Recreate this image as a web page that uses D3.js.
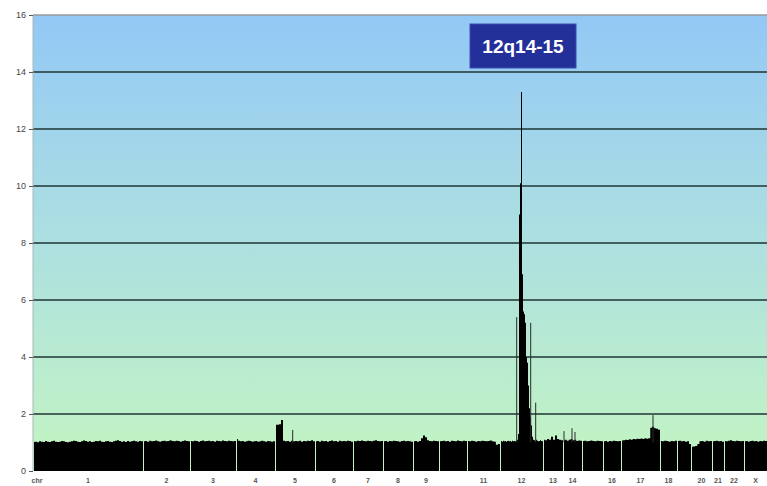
<!DOCTYPE html>
<html>
<head>
<meta charset="utf-8">
<script src="https://cdn.jsdelivr.net/npm/d3@7/dist/d3.min.js"></script>
<style>
  html, body { margin: 0; padding: 0; background: #ffffff; }
  svg { display: block; }
  text { font-family: Arial, "Liberation Sans", sans-serif; }
</style>
</head>
<body>
<svg id="chart" width="767" height="486"></svg>
<script>
// Chromosome order and labels shown under the axis ("" = not labelled)
const chromNames  = ["1","2","3","4","5","6","7","8","9","10","11","12","13","14","15","16","17","18","19","20","21","22","X"];
const chromLabels = ["1","2","3","4","5","6","7","8","9","","11","12","13","14","","16","17","18","","20","21","22","X"];
// Number of probes per chromosome (relative units)
const probeCounts = [110,47,46,39,40,38,30,30,26,28,33,43,20,19,21,18,39,17,14,21,12,20,23];

// Copy-number ratio per probe bin, one array per chromosome
const chr1  = [1.02,1.03,1.01,1.04,1.03,1.02,1.05,1.03,1.02,1.04,1.06,1.03,1.02,1.03,1.05,1.04,1.02,1.01,1.03,1.04,1.06,1.05,1.03,1.02,1.04,1.07,1.05,1.03,1.04,1.02,1.03,1.05,1.04,1.06,1.03,1.02,1.04,1.05,1.03,1.02,1.04,1.06,1.08,1.05,1.03,1.04,1.02,1.05,1.03,1.04,1.06,1.04,1.03,1.05,1.04];
const chr2  = [1.04,1.05,1.03,1.06,1.04,1.05,1.07,1.04,1.03,1.05,1.06,1.04,1.05,1.08,1.05,1.04,1.06,1.05,1.03,1.05,1.07,1.05,1.04];
const chr3  = [1.05,1.04,1.06,1.05,1.03,1.05,1.07,1.04,1.05,1.06,1.04,1.05,1.03,1.06,1.05,1.04,1.07,1.05,1.04,1.06,1.05,1.04,1.05];
const chr4  = [1.12,1.06,1.04,1.05,1.03,1.04,1.06,1.05,1.03,1.04,1.05,1.03,1.04,1.06,1.04,1.03,1.05,1.04,1.03,1.04];
const chr5  = [1.62,1.62,1.64,1.79,1.06,1.04,1.05,1.03,1.06,1.04,1.05,1.04,1.06,1.03,1.05,1.04,1.06,1.05,1.08,1.04];
const chr6  = [1.04,1.05,1.03,1.06,1.04,1.05,1.03,1.05,1.07,1.04,1.05,1.03,1.06,1.04,1.05,1.04,1.06,1.05,1.03];
const chr7  = [1.05,1.04,1.06,1.05,1.07,1.05,1.04,1.06,1.05,1.04,1.06,1.08,1.05,1.04,1.05];
const chr8  = [1.04,1.05,1.03,1.05,1.04,1.06,1.05,1.04,1.03,1.05,1.06,1.04,1.05,1.04,1.03];
const chr9  = [1.04,1.05,1.03,1.05,1.15,1.25,1.18,1.08,1.05,1.04,1.06,1.05,1.04];
const chr10 = [1.04,1.05,1.06,1.04,1.05,1.03,1.06,1.05,1.04,1.07,1.05,1.04,1.06,1.05];
const chr11 = [1.05,1.04,1.06,1.05,1.03,1.05,1.04,1.06,1.05,1.04,1.05,1.07,1.04,1.03,0.92,0.95];
const chr12 = [1.04,1.05,1.03,1.06,1.04,1.05,1.03,1.05,1.06,1.04,1.05,1.03,1.06,1.04,1.05,1.04,1.05,1.10,1.30,9.0,10.1,13.3,6.9,5.6,5.5,5.2,4.0,3.8,3.0,2.2,1.9,1.6,1.2,1.1,1.08,1.05,1.1,1.06,1.04,1.05,1.08,1.05,1.04];
const chr13 = [1.10,1.08,1.12,1.10,1.20,1.10,1.25,1.12,1.10,1.08];
const chr14 = [1.08,1.10,1.06,1.10,1.12,1.08,1.10,1.05,1.07,1.06];
const chr15 = [1.05,1.06,1.04,1.05,1.07,1.05,1.04,1.06,1.05,1.04];
const chr16 = [1.04,1.05,1.03,1.05,1.04,1.06,1.05,1.04,1.05];
const chr17 = [1.07,1.08,1.10,1.09,1.11,1.10,1.12,1.11,1.13,1.12,1.14,1.12,1.15,1.13,1.15,1.52,1.55,1.50,1.48,1.45];
const chr18 = [1.05,1.04,1.06,1.05,1.03,1.05,1.04,1.06];
const chr19 = [1.05,1.06,1.04,1.05,1.03,1.04,0.95];
const chr20 = [0.85,0.86,0.88,0.95,1.04,1.05,1.03,1.06,1.04,1.05];
const chr21 = [1.04,1.05,1.06,1.04,1.05,1.03];
const chr22 = [1.05,1.04,1.06,1.08,1.05,1.04,1.06,1.05,1.04,1.05];
const chrX  = [1.04,1.05,1.03,1.05,1.06,1.04,1.05,1.03,1.05,1.04,1.06,1.05];
const chromValues = [chr1,chr2,chr3,chr4,chr5,chr6,chr7,chr8,chr9,chr10,chr11,chr12,chr13,chr14,chr15,chr16,chr17,chr18,chr19,chr20,chr21,chr22,chrX];

// Single-probe outliers: chromosome, probe offset within chromosome, ratio
const spikeChrom  = ["5","12","12","12","14","14","14","17"];
const spikeOffset = [17.7,16.7,30.7,35.7,1.0,9.0,12.0,32.0];
const spikeValue  = [1.44,5.4,5.2,2.4,1.4,1.5,1.37,1.96];

const yTicks = [0,2,4,6,8,10,12,14,16];
const regionLabel = "12q14-15";

// ---- layout
const svg = d3.select("#chart");
const plotLeft = 33, plotRight = 767, plotTop = 15, plotBottom = 471;

const starts = [];
let acc = 0;
probeCounts.forEach(n => { starts.push(acc); acc += n; });
const total = acc;

const x = d3.scaleLinear().domain([0, total]).range([plotLeft, plotRight]);
const y = d3.scaleLinear().domain([0, 16]).range([plotBottom, plotTop]);

// background gradient
const defs = svg.append("defs");
const grad = defs.append("linearGradient").attr("id", "bg").attr("x1", 0).attr("y1", 0).attr("x2", 0).attr("y2", 1);
grad.append("stop").attr("offset", "0%").attr("stop-color", "#93c8f6");
grad.append("stop").attr("offset", "50%").attr("stop-color", "#ade0e0");
grad.append("stop").attr("offset", "100%").attr("stop-color", "#c4f5c2");

svg.append("rect")
  .attr("x", plotLeft).attr("y", plotTop)
  .attr("width", plotRight - plotLeft).attr("height", plotBottom - plotTop)
  .attr("fill", "url(#bg)");

// horizontal gridlines
svg.append("g").selectAll("line")
  .data(yTicks.filter(t => t > 0 && t < 16))
  .join("line")
  .attr("x1", plotLeft).attr("x2", plotRight)
  .attr("y1", d => y(d)).attr("y2", d => y(d))
  .attr("stroke", "#1f3434").attr("stroke-width", 1.5);

// top border
svg.append("line")
  .attr("x1", plotLeft).attr("x2", plotRight)
  .attr("y1", y(16)).attr("y2", y(16))
  .attr("stroke", "#9a9a9a").attr("stroke-width", 1.5);

// left border
svg.append("line")
  .attr("x1", plotLeft).attr("x2", plotLeft)
  .attr("y1", y(16)).attr("y2", y(0))
  .attr("stroke", "#a8b8b8").attr("stroke-width", 1);

// copy-number bars, one stepped area per chromosome
const area = d3.area()
  .curve(d3.curveStepAfter)
  .x(d => d.x)
  .y0(y(0))
  .y1(d => y(d.v));

const barG = svg.append("g");
chromValues.forEach((vals, ci) => {
  const s = starts[ci], n = probeCounts[ci];
  const w = n / vals.length;
  const pts = vals.map((v, i) => ({ x: i === 0 ? x(s) + 1 : x(s + i * w), v }));
  pts.push({ x: x(s + n), v: vals[vals.length - 1] });
  barG.append("path")
    .attr("d", area(pts))
    .attr("fill", "#000000");
});

// single-probe outliers
svg.append("g").selectAll("line")
  .data(spikeChrom.map((c, i) => ({ ci: chromNames.indexOf(c), off: spikeOffset[i], v: spikeValue[i] })))
  .join("line")
  .attr("x1", d => x(starts[d.ci] + d.off)).attr("x2", d => x(starts[d.ci] + d.off))
  .attr("y1", y(1)).attr("y2", d => y(d.v))
  .attr("stroke", "#2a2a2a").attr("stroke-width", 1);

// y axis
const yAxis = d3.axisLeft(y).tickValues(yTicks).tickSize(4).tickPadding(3).tickFormat(d3.format("d"));
const ya = svg.append("g").attr("transform", `translate(${plotLeft},0)`).call(yAxis);
ya.select(".domain").remove();
ya.selectAll(".tick line").attr("stroke", "#555");
ya.selectAll(".tick text").attr("fill", "#444").attr("font-size", 9);

// chromosome labels
svg.append("g").selectAll("text")
  .data(chromLabels.map((l, i) => ({ l, c: x(starts[i] + probeCounts[i] / 2) })).filter(d => d.l))
  .join("text")
  .attr("x", d => d.c).attr("y", 483)
  .attr("text-anchor", "middle")
  .attr("font-size", 7).attr("font-weight", "bold").attr("fill", "#555")
  .text(d => d.l);

svg.append("text")
  .attr("x", x(0) + 4).attr("y", 483)
  .attr("text-anchor", "middle")
  .attr("font-size", 7).attr("font-weight", "bold").attr("fill", "#555")
  .text("chr");

// region annotation
const boxCx = 523, boxY = 24, boxW = 106, boxH = 44;
svg.append("rect")
  .attr("x", boxCx - boxW / 2).attr("y", boxY)
  .attr("width", boxW).attr("height", boxH)
  .attr("fill", "#23309a").attr("stroke", "#3b4cb0").attr("stroke-width", 1);
svg.append("text")
  .attr("x", boxCx).attr("y", boxY + boxH / 2 + 7)
  .attr("text-anchor", "middle")
  .attr("font-size", 19).attr("font-weight", "bold").attr("fill", "#ffffff")
  .text(regionLabel);
</script>
</body>
</html>
